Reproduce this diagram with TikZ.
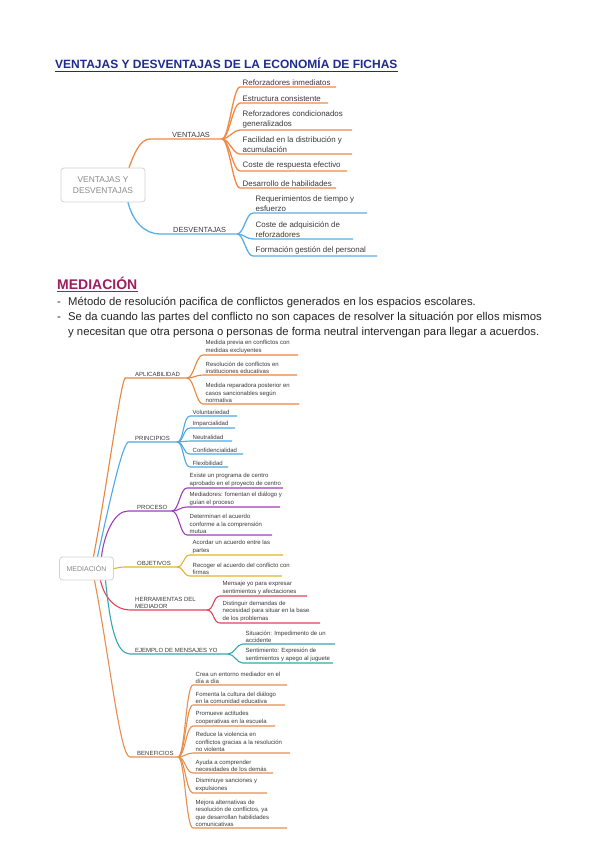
\documentclass[tikz,border=0pt]{standalone}
\usepackage{fontspec}
\setmainfont{Liberation Sans}
\definecolor{titleblue}{HTML}{1F2C8F}
\definecolor{medcol}{HTML}{9E1F5E}
\definecolor{orgA}{HTML}{EF8B46}
\definecolor{bluA}{HTML}{5AAFE8}
\definecolor{orgB}{HTML}{E8873E}
\definecolor{bluB}{HTML}{4DAAE4}
\definecolor{purB}{HTML}{9C3FB9}
\definecolor{golB}{HTML}{E2B62C}
\definecolor{redB}{HTML}{E2445A}
\definecolor{teaB}{HTML}{37A8AF}
\definecolor{orgC}{HTML}{E98E4E}
\definecolor{boxgray}{HTML}{D2D2D2}
\definecolor{txtgray}{HTML}{8A8A8A}
\definecolor{leafgray}{HTML}{3A3A3A}
% name, parent, x0, y, x1, line style, text
\newcommand{\leaf}[7]{%
  \coordinate (#1s) at (#3,#4);
  \coordinate (#1e) at (#5,#4);
  \node[leaftext] (#1) at (#3+2.5,#4) {#7};
  \draw[#6] (#2) .. controls ([xshift=7pt]#2) and ([xshift=-7pt]#1s) .. (#1s) -- (#1e);
}
\begin{document}
\begin{tikzpicture}[x=1pt,y=-1pt,
  leaftext/.style={anchor=south west, inner xsep=0pt, inner ysep=1.3pt, align=left, text=leafgray},
  lblA/.style={anchor=south west, inner xsep=0pt, inner ysep=1.5pt, align=left, text=leafgray, font=\fontsize{7.4}{9}\selectfont},
  lblB/.style={anchor=south west, inner xsep=0pt, inner ysep=1.3pt, align=left, text=leafgray, font=\fontsize{6}{7.3}\selectfont},
  cbox/.style={draw=boxgray, line width=0.8pt, rounded corners=3pt, align=center, text=txtgray, fill=white},
  lnA/.style={line width=1.3pt},
  lnB/.style={line width=1.1pt},
  bodytext/.style={anchor=base west, inner sep=0pt, font=\fontsize{11.3}{15}\selectfont, text=black!85}
]
\useasboundingbox (0,0) rectangle (599,848);
\fill[white] (0,0) rectangle (599,848);

% ---------------- Title ----------------
\node[anchor=base west, inner sep=0pt, font=\bfseries\fontsize{12}{14}\selectfont, text=titleblue] (title) at (55,69) {VENTAJAS Y DESVENTAJAS DE LA ECONOMÍA DE FICHAS};
\draw[titleblue, line width=0.8pt] ([yshift=-2pt]title.base west) -- ([yshift=-2pt]title.base east);

% ---------------- Map 1 ----------------
\node[cbox, minimum width=84pt, minimum height=34pt, font=\fontsize{8.4}{10.5}\selectfont] (c1) at (103,185) {VENTAJAS Y\\DESVENTAJAS};

\coordinate (vs) at (150,139);
\coordinate (ve) at (222,139);
\node[lblA] (vlab) at (172,139) {VENTAJAS};
\draw[orgA, lnA] ([xshift=26pt]c1.north) .. controls (134,154) and (140,139) .. (vs) -- (ve);

\coordinate (ds) at (160,234);
\coordinate (de) at (237,234);
\node[lblA] (dlab) at (173,234) {DESVENTAJAS};
\draw[bluA, lnA] ([xshift=25pt]c1.south) .. controls (133,222) and (145,234) .. (ds) -- (de);

\begin{scope}[leaftext/.append style={font=\fontsize{7.9}{10}\selectfont}]
\leaf{v1}{ve}{240}{87}{336}{orgA, lnA}{Reforzadores inmediatos}
\leaf{v2}{ve}{240}{103}{328}{orgA, lnA}{Estructura consistente}
\leaf{v3}{ve}{240}{130}{352}{orgA, lnA}{Reforzadores condicionados\\generalizados}
\leaf{v4}{ve}{240}{154}{352}{orgA, lnA}{Facilidad en la distribución y\\acumulación}
\leaf{v5}{ve}{240}{171}{347}{orgA, lnA}{Coste de respuesta efectivo}
\leaf{v6}{ve}{240}{188}{336}{orgA, lnA}{Desarrollo de habilidades}
\leaf{d1}{de}{253}{213}{367}{bluA, lnA}{Requerimientos de tiempo y\\esfuerzo}
\leaf{d2}{de}{253}{239}{353}{bluA, lnA}{Coste de adquisición de\\reforzadores}
\leaf{d3}{de}{253}{256}{377}{bluA, lnA}{Formación gestión del personal}
\end{scope}

% ---------------- Mediación text ----------------
\node[anchor=base west, inner sep=0pt, font=\bfseries\fontsize{14}{16}\selectfont, text=medcol] (medtitle) at (57,289) {MEDIACIÓN};
\draw[medcol, line width=0.9pt] ([yshift=-2.5pt]medtitle.base west) -- ([yshift=-2.5pt]medtitle.base east);

\node[bodytext] (dash1) at (57,305) {-};
\node[bodytext] (bt1) at (68,305) {Método de resolución pacifica de conflictos generados en los espacios escolares.};
\node[bodytext] (dash2) at (57,320) {-};
\node[bodytext] (bt2) at (68,320) {Se da cuando las partes del conflicto no son capaces de resolver la situación por ellos mismos};
\node[bodytext] (bt3) at (68,335) {y necesitan que otra persona o personas de forma neutral intervengan para llegar a acuerdos.};

% ---------------- Map 2 ----------------
\node[cbox, minimum width=54pt, minimum height=23pt, font=\fontsize{7}{8}\selectfont] (c2) at (86.5,568.5) {MEDIACIÓN};

% branch coordinates
\coordinate (aps) at (125,378);  \coordinate (ape) at (187,378);
\coordinate (prs) at (128,442);  \coordinate (pre) at (177,442);
\coordinate (pcs) at (128,511);  \coordinate (pce) at (172,511);
\coordinate (obs) at (125,567);  \coordinate (obe) at (177,567);
\coordinate (hes) at (130,610);  \coordinate (hee) at (207,610);
\coordinate (ejs) at (130,654);  \coordinate (eje) at (228,654);
\coordinate (bes) at (130,757);  \coordinate (bee) at (178,757);

\node[lblB] (aplab) at (135,378) {APLICABILIDAD};
\node[lblB] (prlab) at (135,442) {PRINCIPIOS};
\node[lblB] (pclab) at (137,511) {PROCESO};
\node[lblB] (oblab) at (137,567) {OBJETIVOS};
\node[lblB] (helab) at (135,610) {HERRAMIENTAS DEL\\MEDIADOR};
\node[lblB] (ejlab) at (135,654) {EJEMPLO DE MENSAJES YO};
\node[lblB] (belab) at (137,757) {BENEFICIOS};

\draw[orgB, lnB] ([xshift=7pt]c2.north) .. controls (108,480) and (120,386) .. (aps) -- (ape);
\draw[bluB, lnB] ([xshift=11pt]c2.north) .. controls (108,510) and (121,448) .. (prs) -- (pre);
\draw[purB, lnB] ([xshift=15pt]c2.north) .. controls (104,535) and (114,511) .. (pcs) -- (pce);
\draw[golB, lnB] (c2.east) .. controls (118,568) and (120,567) .. (obs) -- (obe);
\draw[redB, lnB] ([xshift=14pt]c2.south) .. controls (104,597) and (115,610) .. (hes) -- (hee);
\draw[teaB, lnB] ([xshift=19pt]c2.south) .. controls (110,625) and (116,654) .. (ejs) -- (eje);
\draw[orgC, lnB] ([xshift=8pt]c2.south) .. controls (110,660) and (120,757) .. (bes) -- (bee);

\begin{scope}[leaftext/.append style={font=\fontsize{6}{7.3}\selectfont}]
\leaf{a1}{ape}{203}{355}{298}{orgB, lnB}{Medida previa en conflictos con\\medidas excluyentes}
\leaf{a2}{ape}{203}{375}{297}{orgB, lnB}{Resolución de conflictos en\\instituciones educativas}
\leaf{a3}{ape}{203}{404}{299}{orgB, lnB}{Medida reparadora posterior en\\casos sancionables según\\normativa}

\leaf{p1}{pre}{190}{416}{237}{bluB, lnB}{Voluntariedad}
\leaf{p2}{pre}{190}{428}{235}{bluB, lnB}{Imparcialidad}
\leaf{p3}{pre}{190}{441}{232}{bluB, lnB}{Neutralidad}
\leaf{p4}{pre}{190}{454}{243}{bluB, lnB}{Confidencialidad}
\leaf{p5}{pre}{190}{467}{228}{bluB, lnB}{Flexibilidad}

\leaf{r1}{pce}{187}{488}{283}{purB, lnB}{Existe un programa de centro\\aprobado en el proyecto de centro}
\leaf{r2}{pce}{187}{507}{280}{purB, lnB}{Mediadores: fomentan el diálogo y\\guían el proceso}
\leaf{r3}{pce}{187}{535}{272}{purB, lnB}{Determinan el acuerdo\\conforme a la comprensión\\mutua}

\leaf{o1}{obe}{190}{555}{283}{golB, lnB}{Acordar un acuerdo entre las\\partes}
\leaf{o2}{obe}{190}{576}{282}{golB, lnB}{Recoger el acuerdo del conflicto con\\firmas}

\leaf{h1}{hee}{220}{596}{307}{redB, lnB}{Mensaje yo para expresar\\sentimientos y afectaciones}
\leaf{h2}{hee}{220}{623}{320}{redB, lnB}{Distinguir demandas de\\necesidad para situar en la base\\de los problemas}

\leaf{e1}{eje}{243}{644}{335}{teaB, lnB}{Situación: Impedimento de un\\accidente}
\leaf{e2}{eje}{243}{663}{333}{teaB, lnB}{Sentimiento: Expresión de\\sentimientos y apego al juguete}

\leaf{b1}{bee}{193}{685}{287}{orgC, lnB}{Crea un entorno mediador en el\\día a día}
\leaf{b2}{bee}{193}{705}{285}{orgC, lnB}{Fomenta la cultura del diálogo\\en la comunidad educativa}
\leaf{b3}{bee}{193}{726}{275}{orgC, lnB}{Promueve actitudes\\cooperativas en la escuela}
\leaf{b4}{bee}{193}{753}{290}{orgC, lnB}{Reduce la violencia en\\conflictos gracias a la resolución\\no violenta}
\leaf{b5}{bee}{193}{773}{273}{orgC, lnB}{Ayuda a comprender\\necesidades de los demás}
\leaf{b6}{bee}{193}{793}{267}{orgC, lnB}{Disminuye sanciones y\\expulsiones}
\leaf{b7}{bee}{193}{828}{287}{orgC, lnB}{Mejora alternativas de\\resolución de conflictos, ya\\que desarrollan habilidades\\comunicativas}
\end{scope}
\end{tikzpicture}
\end{document}
